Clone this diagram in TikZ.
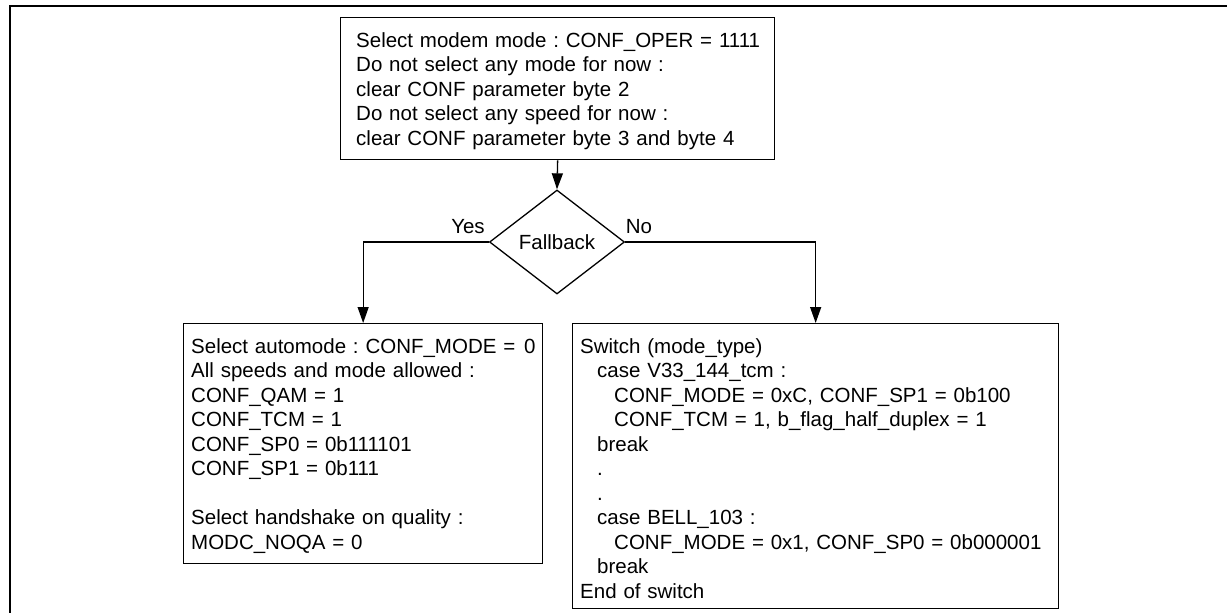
\documentclass[tikz,border=0pt]{standalone}
\usepackage{fontspec}
\setmainfont{Liberation Sans}[WordSpace=0.8]
\frenchspacing
\usetikzlibrary{shapes.geometric,arrows.meta}

\tikzset{
  outerframe/.style={line width=2.3pt, line join=miter},
  boxframe/.style={draw, rectangle, line width=1.3pt, inner sep=0pt, anchor=north west},
  decision/.style={draw, diamond, line width=1.3pt, inner sep=0pt,
    minimum width=135pt, minimum height=104pt, font=\fontsize{20.5pt}{24.5pt}\selectfont},
  boxtext/.style={anchor=base west, inner sep=0pt, align=left, text width=480pt,
    font=\fontsize{20.5pt}{24.5pt}\selectfont},
  flow/.style={line width=1.3pt, -{Triangle[length=16pt,width=11pt]}},
  branch/.style={inner sep=0pt, anchor=base, font=\fontsize{20.5pt}{24.5pt}\selectfont}
}
\newcommand{\ind}{\hspace*{17pt}}

\begin{document}
\begin{tikzpicture}[x=1pt,y=-1pt]
\useasboundingbox (0,0) rectangle (1227,613);

% page frame: top and left rules only
\draw[outerframe] (10.3,613) -- (10.3,6) -- (1227,6);

% boxes
\node[boxframe, minimum width=434pt, minimum height=142pt] (init) at (340,17) {};
\node[boxframe, minimum width=359pt, minimum height=240pt] (auto) at (183,323) {};
\node[boxframe, minimum width=486pt, minimum height=285pt] (sw) at (572,323) {};

% decision
\node[decision] (fb) at (557,242) {Fallback};

% box contents
\node[boxtext] (inittxt) at (356,47) {Select modem mode : CONF\_OPER = 1111\\
Do not select any mode for now :\\
clear CONF parameter byte 2\\
Do not select any speed for now :\\
clear CONF parameter byte 3 and byte 4};

\node[boxtext] (autotxt) at (191,353) {Select automode : CONF\_MODE = \kern2pt0\\
All speeds and mode allowed :\\
CONF\_QAM = 1\\
CONF\_TCM = 1\\
CONF\_SP0 = 0b111101\\
CONF\_SP1 = 0b111\\[24.5pt]
Select handshake on quality :\\
MODC\_NOQA = 0};

\node[boxtext] (swtxt) at (580,353) {Switch (mode\_type)\\
\ind case V33\_144\_tcm :\\
\ind\ind CONF\_MODE = 0xC, CONF\_SP1 = 0b100\\
\ind\ind CONF\_TCM = 1, b\_flag\_half\_duplex = 1\\
\ind break\\
\ind .\\
\ind .\\
\ind case BELL\_103 :\\
\ind\ind CONF\_MODE = 0x1, CONF\_SP0 = 0b000001\\
\ind break\\
End of switch};

% connectors
\draw[flow] (init.south) -- (fb.north);
\draw[flow] (fb.west) -| (auto.north);
\draw[flow] (fb.east) -| (sw.north);

% branch labels
\node[branch] (yes) at (468,233) {Yes};
\node[branch] (no) at (639,233) {No};
\end{tikzpicture}
\end{document}
